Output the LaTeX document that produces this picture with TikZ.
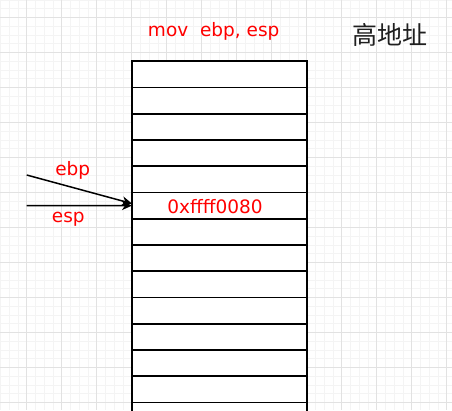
\documentclass[tikz,border=0pt]{standalone}
\usepackage{fontspec}
\setmainfont{DejaVu Sans}
\newfontfamily\cjk{Noto Sans CJK SC}
\usetikzlibrary{arrows.meta}
\definecolor{gridminor}{HTML}{F4F4F4}
\definecolor{gridmajor}{HTML}{E2E2E2}
\definecolor{labelred}{HTML}{FF0000}
\begin{document}
\begin{tikzpicture}[x=1pt,y=-1pt,
  cell/.style={draw=black, line width=1.6pt, fill=white, minimum width=175pt, minimum height=26.25pt, inner sep=0pt, outer sep=0pt},
  lbl/.style={text=labelred, font=\fontsize{18.5}{22}\selectfont, anchor=base, inner sep=0pt},
  ptr/.style={line width=1.5pt, -{Stealth[length=10pt,width=9pt,inset=3pt]}}
]
\useasboundingbox (0,0) rectangle (452,410);
\clip (0,0) rectangle (452,410);
\fill[white] (0,0) rectangle (452,410);
% grid
\foreach \i in {-4,...,52} {
  \draw[gridminor, line width=0.8pt] (26.7+8.75*\i,0) -- (26.7+8.75*\i,410);
  \draw[gridminor, line width=0.8pt] (0,17.4+8.75*\i) -- (452,17.4+8.75*\i);
}
\foreach \i in {-1,...,13} {
  \draw[gridmajor, line width=0.9pt] (26.7+35*\i,0) -- (26.7+35*\i,410);
  \draw[gridmajor, line width=0.9pt] (0,17.4+35*\i) -- (452,17.4+35*\i);
}
% stack
\foreach \k in {0,...,13} {
  \node[cell] (r\k) at (219.5, 61.2+26.25*\k+13.125) {};
}
% labels
\node[lbl] (mov) at (213.7,36) {mov\ \ ebp, esp};
\node[font=\cjk\fontsize{25}{28}\selectfont, anchor=base, inner sep=0pt, text=black!88] (hi) at (390,44.5) {高地址};
\node[lbl] (addr) at (215,213.3) {0xffff0080};
\node[lbl] (ebplbl) at (72.8,175) {ebp};
\node[lbl] (esplbl) at (68.3,222.7) {esp};
% pointers
\coordinate (ebpfrom) at (26.7,175);
\coordinate (espfrom) at (26.7,205.7);
\draw[ptr] (ebpfrom) -- ([yshift=2pt]r5.west);
\draw[ptr] (espfrom) -- (r5.west);
\end{tikzpicture}
\end{document}
